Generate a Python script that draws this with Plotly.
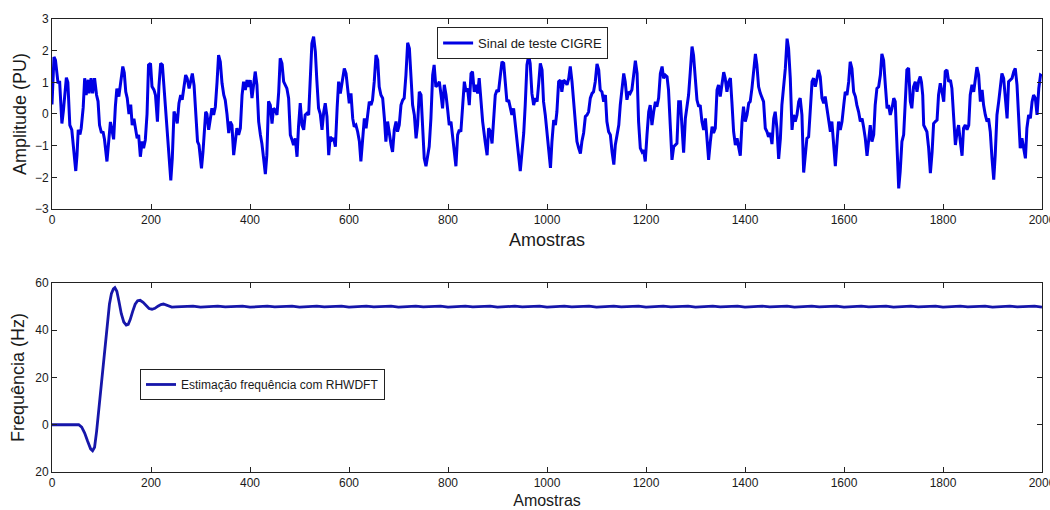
import plotly.graph_objects as go

# ---------------- data ----------------
amostras_sinal = [
    0, 4, 7, 9, 12, 15.5, 18, 20, 23, 26, 29, 32, 34, 36, 40, 44, 48, 50.5, 53, 56.5, 59, 63, 66, 69, 73, 75, 79, 82, 86, 90,
    93, 96, 100, 103, 106, 111, 114.5, 118, 121, 124.5, 128, 131, 135, 138, 143, 146, 149, 152, 155.5, 159, 162, 165.5, 168,
    172, 175, 178.5, 182, 185, 188.5, 192, 195, 199, 202, 206, 209, 213, 216, 219.5, 223, 226, 229.5, 233, 236, 240, 243,
    246.5, 250, 253, 256.5, 260, 263, 266.5, 270, 273, 277, 280, 283.5, 287,
    291, 294, 297, 302, 305, 308, 310.5, 313, 316.5, 320, 323, 326.5, 330, 333.5, 336.5, 340, 343.5, 347, 350, 353.5, 357,
    360, 363.5, 367, 370, 373.5, 377, 380.5, 384, 387, 390.5, 394, 397, 400.5, 404, 407, 410.5, 414, 417.5, 421, 424, 427.5,
    431, 434, 437.5, 441, 444.5, 447.5, 451, 454.5, 458, 461, 464.5, 468, 471, 474.5, 478, 481.5, 485, 488, 491.5, 495, 498,
    501.5, 505, 508.5, 511.5, 515, 518.5, 522, 525, 528.5, 532, 535, 538.5, 542, 545.5, 549, 552, 555.5, 559, 562, 565.5,
    569, 572.5,
    576, 579, 582.5, 586, 590.5, 594, 597, 600.5, 604, 607.5, 610.5, 614, 617.5, 621, 624, 627.5, 631, 634.5, 637.5, 641,
    644.5, 647.5, 651, 654.5, 658, 661, 664.5, 668, 671.5, 674.5, 678, 681.5, 685, 688, 691.5, 695, 698, 701.5, 705, 708.5,
    711.5, 715, 718.5, 722, 725, 728.5, 732, 735.5, 738.5, 742, 745.5, 748.5, 752, 755.5, 759, 762, 765.5, 769, 772, 775.5,
    779, 782.5, 786, 789, 792.5, 796, 799, 802.5, 806, 809.5, 812.5, 816, 819.5, 823, 826, 829.5, 833, 836.5, 839.5, 843,
    846.5, 849.5, 853, 856.5, 860, 863, 866.5,
    870, 875, 879, 882, 885.5, 889, 892, 895.5, 899, 902, 905.5, 909, 912.5, 916, 919, 922.5, 926, 929, 932.5, 936, 939.5,
    942.5, 946, 949.5, 953, 956, 959.5, 963, 966, 969.5, 973, 976.5, 980, 983, 986.5, 990, 993, 996.5, 1000, 1003.5, 1007,
    1010, 1013.5, 1017, 1020, 1023.5, 1027, 1030, 1033.5, 1037, 1040.5, 1044, 1047, 1050.5, 1054, 1057, 1060.5, 1064,
    1067.5, 1070.5, 1074, 1077.5, 1081, 1084, 1087.5, 1091, 1094, 1097.5, 1101, 1104.5, 1107.5, 1111, 1114.5, 1118, 1121,
    1124.5, 1128, 1131.5, 1135, 1138, 1141.5, 1145, 1148, 1151.5, 1155, 1158, 1161.5, 1165, 1168,
    1171.5, 1175, 1178.5, 1182, 1185, 1188.5, 1192, 1195, 1198.5, 1202, 1205.5, 1208.5, 1212, 1215.5, 1219, 1222, 1225.5,
    1229, 1232.5, 1235.5, 1239, 1242.5, 1245.5, 1249, 1252.5, 1256, 1259, 1262.5, 1266, 1269.5, 1272.5, 1276, 1279.5, 1283,
    1286, 1289.5, 1293, 1296, 1299.5, 1303, 1306.5, 1309.5, 1313, 1316.5, 1320, 1323, 1326.5, 1330, 1333.5, 1336.5, 1340,
    1343.5, 1346.5, 1350, 1353.5, 1357, 1360, 1363.5, 1367, 1370.5, 1373.5, 1377, 1380.5, 1384, 1387, 1390.5, 1394, 1397,
    1400.5, 1404, 1407.5, 1410.5, 1414, 1417.5, 1421, 1424, 1427.5, 1431, 1434.5, 1437.5, 1441, 1444.5, 1447.5, 1451,
    1454.5, 1458, 1461, 1464.5, 1468, 1471.5, 1474.5, 1478, 1481.5, 1485, 1488, 1491.5, 1495, 1498, 1501.5, 1505, 1508.5,
    1511.5, 1515, 1518.5, 1522, 1525, 1528.5, 1532, 1535.5, 1538.5, 1542, 1545.5, 1548.5, 1552, 1555.5, 1559, 1562, 1565.5,
    1569, 1572.5, 1575.5, 1579, 1582.5, 1586, 1589, 1592.5, 1596, 1599.5, 1602.5, 1606, 1609.5, 1612.5, 1616, 1619.5, 1623,
    1626, 1629.5, 1633, 1636.5, 1639.5, 1643, 1646.5, 1650, 1653, 1656.5, 1660, 1663, 1666.5, 1670, 1673.5, 1676.5, 1680,
    1683.5, 1687, 1690, 1693.5, 1697, 1700.5, 1703.5, 1707, 1710.5, 1713.5, 1717, 1720.5, 1724, 1727, 1730.5, 1734, 1737,
    1740.5, 1744, 1747.5, 1751,
    1754, 1756.5, 1759, 1761, 1764.5, 1767.5, 1771, 1774.5, 1778, 1781, 1784.5, 1788, 1791, 1794.5, 1798, 1801.5, 1804.5,
    1808, 1811.5, 1815, 1818, 1821.5, 1825, 1828.5, 1831.5, 1835, 1838.5, 1841.5, 1845, 1848.5, 1852, 1855, 1858.5, 1862,
    1865.5, 1868.5, 1872, 1875.5, 1879, 1882, 1885.5, 1889, 1892, 1895.5, 1899, 1902.5, 1905.5, 1909, 1912.5, 1916, 1919,
    1922.5, 1926, 1929.5, 1932.5, 1936, 1939.5, 1943, 1946, 1949.5, 1953, 1956, 1959.5, 1963, 1966.5, 1969.5, 1973, 1976.5,
    1980, 1983, 1986.5, 1990, 1993.5, 1997, 2000,
]

amplitude_sinal = [
    0.3, 1.8, 1.7, 1.3, 1.0, 1.0, 0.4, -0.3, 0.1, 0.7, 1.15, 1.0, 0.1, -0.35, -0.5, -1.1, -1.8, -1.3, -0.5, -0.65, -0.45, 0.2,
    1.13, 0.6, 1.08, 0.65, 1.13, 0.65, 1.13, 0.6,
    0.4, -0.35, -0.6, -0.55, -0.8, -1.5, -0.87, -0.25, -0.5, -0.8, 0.23, 0.8, 0.55, 0.87, 1.5, 1.3, 0.7, 0.5, 0.0, 0.3, -0.35,
    -0.15, -0.45,
    -0.77, -0.66, -1.35, -0.87, -1.08, -0.82, 0.0, 1.55, 1.6, 0.87, 0.76, 0.6, -0.24, 0.87, 1.6, 1.55, 0.87, 0.0, -0.66,
    -1.2, -2.1, -1.4,
    0.08, -0.08, -0.3, 0.34, 0.6, 0.45, 0.87, 1.23, 1.13, 0.81, 1.02, 1.28, 0.9,
    0.0, -0.87, -0.98, -1.72, -1.2, -0.35, 0.07, 0.0, -0.5, -0.14, 0.18, -0.03, 0.23, 1.02, 1.86, 1.65, 0.97, 0.6, 0.44,
    0.0, -0.6,
    -0.24, -0.35, -1.3, -0.98, -0.45, -0.66, -0.45, 0.6, 1.02, 0.76, 1.07, 0.86, 1.07, 0.5, 0.86, 1.34, 0.92, -0.24, -0.66,
    -0.93, -1.4,
    -1.9, -1.3, 0.4, 0.28, -0.3, 0.18, 0.13, -0.03, 0.7, 1.76, 1.6, 1.02, 0.92, 0.81, 0.5, -0.66, -0.82, -0.98, -0.77,
    -1.35, -0.4,
    0.34, -0.35, -0.5, -0.03, 0.02, -0.03, 1.23, 2.23, 2.44, 1.97, 1.07, 0.18, 0.0, -0.5, 0.07, 0.34, -0.08, -1.3, -0.72,
    -0.82,
    -0.77, -1.03,
    0.18, 1.02, 0.65, 1.0, 1.44, 1.28, 0.86, 0.34, 0.65, -0.14, -0.4, -0.35, -0.56, -0.87, -1.5, -0.66, -0.14, -0.45, -0.08,
    0.39,
    0.28, 0.44, 1.02, 1.86, 1.7, 0.86, 0.6, 0.5, -0.14, -0.87, -0.24, -0.66, -0.98, -1.2, -0.5, -0.24, -0.56, -0.35, 0.28,
    0.44,
    0.5, 1.23, 2.25, 2.07, 1.13, 0.28, -0.03, -0.77, -0.35, 0.7, 0.6, -0.35, -1.4, -1.65, -1.3, -1.03, -0.14, 1.23, 1.55,
    0.86,
    0.92, 1.02, 0.6, 0.18, 0.92, 0.6, 0.18, -0.35, -0.24, -0.77, -1.3, -1.65, -0.66, -0.5, -0.56, 0.39, 1.02, 0.7, 0.81,
    0.28,
    1.28, 1.34, 0.7, 0.92, 0.65, 1.13, 0.28,
    -0.24, -0.87, -1.3, -0.45, -0.55, -0.93, -0.03, 0.6, 0.76, 0.7, 1.18, 1.65, 1.6, 0.97, 0.39, 0.44, 0.23, -0.03, 0.18,
    -0.4, -0.82,
    -1.3, -1.8, -1.3, -0.6, 0.28, 1.55, 1.85, 1.6, 0.65, 0.28, 0.5, 0.39, 0.92, 1.6, 1.39, 0.39, -0.03, -0.66, -1.3, -1.7,
    -0.87, -0.19, -0.35, 0.07, 1.02, 1.07, 0.7, 1.07, 1.02, 0.92, 1.13, 1.5, 1.02, 0.39, -0.03, -0.87, -1.08,
    -1.25, -0.87, -0.6, -0.08, -0.03, 0.07, 0.5, 0.65, 0.7, 1.02, 1.58, 1.39, 0.76, 0.7, 0.39, 0.6, -0.24,
    -0.56, -0.66, -1.2, -1.6, -0.98, -0.66, -0.35, 0.28, 0.81, 1.28, 1.02, 0.45, 0.7, 0.65,
    0.76, 1.23, 1.68, 1.28, -0.24, -1.08, -1.2, -1.14, -1.5, -0.66, 0.07, 0.28, -0.35, 0.07, 0.39, 0.23, 0.5,
    1.28, 1.5, 1.13, 1.23, 1.18, 0.76, -0.35, -1.45, -1.03, -0.98, -0.93, 0.39, 0.39, -0.35, -1.22, -0.14, 0.23,
    0.6, 1.34, 2.13, 1.86, 1.23, 0.44, 0.23, 0.28, -0.24, -0.5, -0.14, -0.72, -1.45, -0.87, -0.4, -0.6, -0.45,
    0.76, 0.92, 0.55, 0.97, 1.32, 1.13, 0.7, 1.02, 1.13, 0.39, -0.56, -0.98, -0.77, -1.03, -1.32, -0.24, 0.23,
    -0.24, -0.03, 0.34, 0.39, 0.81, 1.34, 1.9, 1.55, 0.86, 0.65, 0.5, 0.39, -0.45, -0.56, -0.72, -0.6,
    -0.95, -0.14, 0.07, -0.45, -1.42, -0.77, 0.28, 0.86, 1.44, 2.38, 2.07, 1.13, -0.5, -0.03, -0.24, -0.03, 0.39,
    0.5, -0.03, -1.85, -1.2, -0.77, -0.72, 0.07, 1.02, 1.13, 0.86, 1.13, 1.39, 1.18, 0.5, 0.34, 0.55, 0.18,
    -0.24, -0.56, -0.24, -1.03, -1.65, -0.87, -0.24, -0.5, -0.24, 0.28, 0.7, 0.6, 1.02, 1.65, 1.44, 0.7, 0.55,
    0.28, 0.07, -0.24, -0.14, -0.4, -0.77, -1.32, -0.77, -0.35, -0.87, -0.66, 0.28, 0.81, 0.86, 1.23, 1.9, 1.7,
    0.92, 0.18, 0.28, -0.03, 0.18, 0.5, 0.39, -1.08, -2.35, -1.82, -0.87, -0.66, 0.39, 1.39, 1.45, 0.39, 0.18,
    0.86, 1.02, 0.7, 1.05,
    1.18, 1.0, 0.6, -0.35, -0.5, -0.56, -1.08, -1.87, -1.2, -0.3, -0.24, -0.19, 0.6, 0.97, 0.7, 0.39, 1.34,
    1.39, 1.02, 1.07, 0.81, -0.24, -0.98, -0.56, -0.35, -0.87, -1.32, -0.45, -0.35, -0.5, -0.35, 0.6, 0.92, 0.7,
    1.13, 1.48, 1.23, 0.39, 0.76, 0.28, -0.03, -0.24, -0.14, -0.56, -1.4, -2.07, -1.3, -0.03, 0.39, 0.86, 1.28,
    1.13, 0.44, -0.14, 1.02, 1.07, 1.13, 1.34, 1.44, 0.92, -0.45, -1.08, -0.77, -1.03, -1.4, -0.45, -0.03, -0.14,
    0.39, 0.6, 0.5, -0.03, 0.81, 1.23, 1.2,
]

amostras_freq = [
    0, 54, 60, 66, 72, 78, 82, 86, 90, 94, 98, 103, 108, 112, 116, 120, 124, 127, 131, 135, 140, 145, 150, 154, 158,
    163, 168, 173, 178, 184, 190, 196, 202, 208, 214, 220, 225, 230, 236, 242, 250, 285, 300, 335, 350, 385, 400, 435,
    450, 485, 500, 535, 550, 585, 600, 635, 650, 685, 700, 735, 750, 785, 800, 835, 850, 885, 900, 935, 950, 985, 1000,
    1035, 1050, 1085, 1100, 1135, 1150, 1185, 1200, 1235, 1250, 1285, 1300, 1335, 1350, 1385, 1400, 1435, 1450, 1485,
    1500, 1535, 1550, 1585, 1600, 1635, 1650, 1685, 1700, 1735, 1750, 1785, 1800, 1835, 1850, 1885, 1900, 1935, 1950,
    1985, 2000,
]

freq_hz = [
    0, 0, -1, -3.5, -7, -10.2, -11, -9.5, -3, 5, 13.5, 25, 36, 44, 51, 55.5, 57.5, 58, 56.5, 52.5, 47, 43.5, 42.2, 42.5,
    44.5, 48, 51, 52.5, 52.7, 51.8, 50.3, 49.2, 48.9, 49.3, 50.2, 50.9, 51.1, 50.7, 50.1, 49.8, 49.9, 50.2, 49.8, 50.2,
    49.9, 50.2, 49.8, 50.2, 49.9, 50.2, 49.8, 50.2, 49.9, 50.2, 49.8, 50.2, 49.9, 50.2, 49.8, 50.2, 49.9, 50.2, 49.8,
    50.2, 49.9, 50.2, 49.8, 50.2, 49.9, 50.2, 49.8, 50.2, 49.9, 50.2, 49.8, 50.2, 49.9, 50.2, 49.8, 50.2, 49.9, 50.2,
    49.8, 50.2, 49.9, 50.2, 49.8, 50.2, 49.9, 50.2, 49.8, 50.2, 49.9, 50.2, 49.8, 50.2, 49.9, 50.2, 49.8, 50.2, 49.9,
    50.2, 49.8, 50.2, 49.9, 50.2, 49.8, 50.2, 49.9, 50.2, 49.8, 50.2,
]

x_ticks = [0, 200, 400, 600, 800, 1000, 1200, 1400, 1600, 1800, 2000]
y1_ticks = [-3, -2, -1, 0, 1, 2, 3]
y2_ticks = [-20, 0, 20, 40, 60]
y2_ticktext = ["20", "0", "20", "40", "60"]

# ---------------- figure ----------------
FONT = "Liberation Sans, Arial, sans-serif"
TXT = "#1a1a1a"

fig = go.Figure()
fig.add_trace(go.Scatter(
    x=amostras_sinal, y=amplitude_sinal, mode="lines",
    line=dict(color="rgb(0,0,228)", width=3),
    name="Sinal de teste CIGRE", xaxis="x", yaxis="y", legend="legend",
))
fig.add_trace(go.Scatter(
    x=amostras_freq, y=freq_hz, mode="lines",
    line=dict(color="rgb(22,22,170)", width=2.8),
    name="Estimação frequência com RHWDFT", xaxis="x2", yaxis="y2", legend="legend2",
))

axis_common = dict(
    showline=True, linecolor="#222", linewidth=1, mirror="ticks",
    ticks="inside", ticklen=5, tickcolor="#222", tickwidth=1,
    showgrid=False, zeroline=False, automargin=False,
    ticklabeloverflow="allow",
    tickfont=dict(family=FONT, size=12, color=TXT),
)

fig.update_layout(
    width=1050, height=510,
    margin=dict(l=52, r=8, t=19, b=38),
    paper_bgcolor="white", plot_bgcolor="white",
    font=dict(family=FONT, color=TXT),
    xaxis=dict(axis_common, domain=[0, 1], anchor="y", range=[0, 2000], tickvals=x_ticks,
               title=dict(text="Amostras", font=dict(size=18, family=FONT, color=TXT), standoff=7)),
    yaxis=dict(axis_common, domain=[0.5806, 1], anchor="x", range=[-3, 3], tickvals=y1_ticks,
               title=dict(text="Amplitude (PU)", font=dict(size=18, family=FONT, color=TXT), standoff=3)),
    xaxis2=dict(axis_common, domain=[0, 1], anchor="y2", range=[0, 2000], tickvals=x_ticks,
                title=dict(text="Amostras", font=dict(size=16, family=FONT, color=TXT), standoff=5)),
    yaxis2=dict(axis_common, domain=[0, 0.4172], anchor="x2", range=[-20, 60], tickvals=y2_ticks,
                ticktext=y2_ticktext,
                title=dict(text="Frequência (Hz)", font=dict(size=18, family=FONT, color=TXT), standoff=5)),
    legend=dict(x=0.389, y=0.982, xanchor="left", yanchor="top", bgcolor="white",
                bordercolor="#222", borderwidth=1, font=dict(size=13, family=FONT, color=TXT)),
    legend2=dict(x=0.0889, y=0.2274, xanchor="left", yanchor="top", bgcolor="white",
                 bordercolor="#222", borderwidth=1, font=dict(size=12, family=FONT, color=TXT)),
    showlegend=True,
)

fig.write_html("out.html")
